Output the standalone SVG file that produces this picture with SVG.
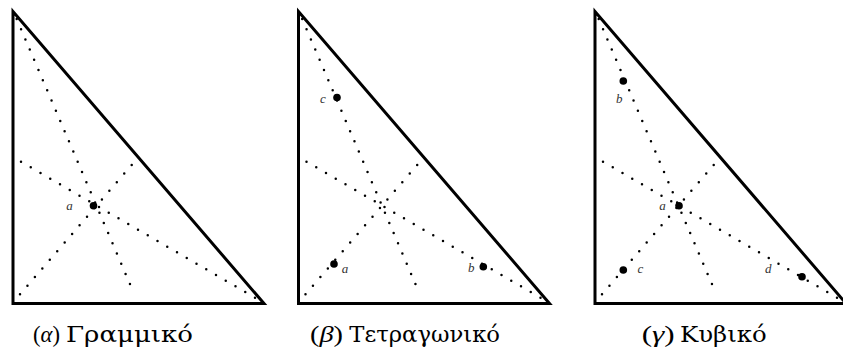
<svg xmlns="http://www.w3.org/2000/svg" width="843" height="349" viewBox="0 0 843 349">
  <style>
    .tri { fill: none; stroke: #000; stroke-width: 3; stroke-linejoin: miter; stroke-miterlimit: 10; }
    .med { fill: none; stroke: #000; stroke-width: 2.5; stroke-linecap: round; stroke-dasharray: 0 1; }
    .pt { fill: #000; }
    .lbl { font-family: "Liberation Serif", "DejaVu Serif", serif; font-style: italic; font-size: 13px; fill: #333; text-anchor: middle; }
    .cap { font-family: "Liberation Serif", "DejaVu Serif", serif; font-size: 23px; fill: #000; }
    .capw { font-family: "DejaVu Serif", "Liberation Serif", serif; font-size: 22px; fill: #000; }
  </style>
  <defs>
    <g id="frame">
      <polygon class="tri" points="13,11.5 13,303.5 264,303.5"/>
    </g>
    <g id="medians">
      <path class="med" d="M16.7,19 L134.3,294.3" pathLength="27"/>
      <path class="med" d="M255,297.7 L21,161.7" pathLength="24"/>
      <path class="med" d="M20,294.3 L131.7,165" pathLength="15"/>
    </g>
  </defs>

  <!-- Panel (α) Linear -->
  <g id="panel-linear">
    <use href="#frame"/>
    <g id="connectors-linear"><use href="#medians"/></g>
    <g id="node-linear-a"><circle class="pt" cx="93.5" cy="205.7" r="3.8"/><text class="lbl" x="69.5" y="209.5">a</text></g>
    <text class="cap" x="33" y="342" textLength="27" lengthAdjust="spacingAndGlyphs">(<tspan font-style="italic">α</tspan>)</text>
    <text class="capw" x="66" y="342" textLength="127" lengthAdjust="spacingAndGlyphs">Γραμμικό</text>
  </g>

  <!-- Panel (β) Quadratic -->
  <g id="panel-quadratic">
    <use href="#frame" transform="translate(285.5,0)"/>
    <g id="connectors-quadratic"><use href="#medians" transform="translate(285.5,0)"/></g>
    <g id="node-quad-c"><circle class="pt" cx="337" cy="97.5" r="3.8"/><text class="lbl" x="323" y="103">c</text></g>
    <g id="node-quad-a"><circle class="pt" cx="334" cy="264" r="3.8"/><text class="lbl" x="345" y="272.5">a</text></g>
    <g id="node-quad-b"><circle class="pt" cx="483.3" cy="266.7" r="3.8"/><text class="lbl" x="471.3" y="271.5">b</text></g>
    <text class="cap" x="310" y="342" textLength="33" lengthAdjust="spacingAndGlyphs">(<tspan font-style="italic">β</tspan>)</text>
    <text class="capw" x="349.3" y="342" textLength="150.7" lengthAdjust="spacingAndGlyphs">Τετραγωνικό</text>
  </g>

  <!-- Panel (γ) Cubic -->
  <g id="panel-cubic">
    <use href="#frame" transform="translate(582,0)"/>
    <g id="connectors-cubic"><use href="#medians" transform="translate(582,0)"/></g>
    <g id="node-cubic-b"><circle class="pt" cx="623.3" cy="81" r="3.8"/><text class="lbl" x="619.3" y="103">b</text></g>
    <g id="node-cubic-a"><circle class="pt" cx="679" cy="205.7" r="3.8"/><text class="lbl" x="662.5" y="209.5">a</text></g>
    <g id="node-cubic-c"><circle class="pt" cx="623.3" cy="270" r="3.8"/><text class="lbl" x="640.3" y="273">c</text></g>
    <g id="node-cubic-d"><circle class="pt" cx="802" cy="276.7" r="3.8"/><text class="lbl" x="768.3" y="272.5">d</text></g>
    <text class="cap" x="641.7" y="342" textLength="33" lengthAdjust="spacingAndGlyphs">(<tspan font-style="italic">γ</tspan>)</text>
    <text class="capw" x="680" y="342" textLength="86.7" lengthAdjust="spacingAndGlyphs">Κυβικό</text>
  </g>
</svg>
